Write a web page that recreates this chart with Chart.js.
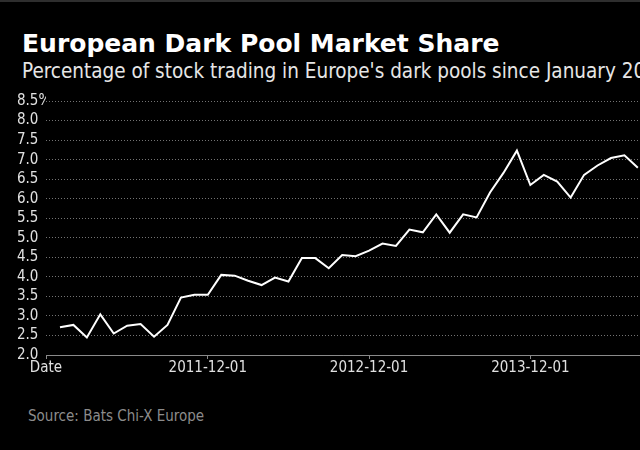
<!DOCTYPE html>
<html>
<head>
<meta charset="utf-8">
<script src="https://cdn.jsdelivr.net/npm/chart.js@4/dist/chart.umd.min.js"></script>
<style>
  html, body { margin: 0; padding: 0; background: #000; }
  #wrap { position: relative; width: 640px; height: 450px; overflow: hidden; background: #000; border-top: 2px solid #2e2e2e; box-sizing: border-box; }
  .txt { position: absolute; left: 22px; white-space: nowrap; font-family: "DejaVu Sans Condensed", "DejaVu Sans", sans-serif; }
  #title { top: 27px; font-size: 25px; font-weight: bold; color: #fff; font-family: "DejaVu Sans", sans-serif; }
  #subtitle { top: 57px; font-size: 20.5px; color: #e6e6e6; }
  #source { top: 405px; left: 28px; font-size: 15px; color: #8c8c8c; }
  #chartBox { position: absolute; left: 0; top: 0; width: 640px; height: 450px; }
</style>
</head>
<body>
<div id="wrap">
  <div class="txt" id="title">European Dark Pool Market Share</div>
  <div class="txt" id="subtitle">Percentage of stock trading in Europe's dark pools since January 2011</div>
  <div class="txt" id="source">Source: Bats Chi-X Europe</div>
  <div id="chartBox"><canvas id="myChart"></canvas></div>
</div>
<script>
// monthly values, Jan 2011 .. Aug 2014 (index 0 = 2011-01-01)
var months = [
  '2011-01','2011-02','2011-03','2011-04','2011-05','2011-06','2011-07','2011-08','2011-09','2011-10','2011-11','2011-12',
  '2012-01','2012-02','2012-03','2012-04','2012-05','2012-06','2012-07','2012-08','2012-09','2012-10','2012-11','2012-12',
  '2013-01','2013-02','2013-03','2013-04','2013-05','2013-06','2013-07','2013-08','2013-09','2013-10','2013-11','2013-12',
  '2014-01','2014-02','2014-03','2014-04','2014-05','2014-06','2014-07','2014-08'
];
var share = [
  2.71, 2.77, 2.45, 3.04, 2.55, 2.75, 2.79, 2.47, 2.77, 3.47, 3.54, 3.54,
  4.05, 4.03, 3.90, 3.79, 3.98, 3.88, 4.48, 4.48, 4.22, 4.56, 4.53, 4.67,
  4.85, 4.79, 5.21, 5.14, 5.60, 5.13, 5.60, 5.52, 6.16, 6.66, 7.23, 6.35,
  6.61, 6.44, 6.03, 6.61, 6.85, 7.04, 7.11, 6.79
];
var xTickValues = [-1.04, 11, 23, 35];
var xTickLabels = ['Date', '2011-12-01', '2012-12-01', '2013-12-01'];

var tickFont = { family: '"DejaVu Sans Condensed", "DejaVu Sans", sans-serif', size: 15 };

function renderChart() {
    var ctx = document.getElementById('myChart').getContext('2d');
    var points = share.map(function (v, i) { return { x: i, y: v }; });
    new Chart(ctx, {
        type: 'line',
        data: {
            datasets: [{
                label: 'share',
                data: points,
                borderColor: '#ffffff',
                borderWidth: 2,
                pointRadius: 0,
                tension: 0,
                fill: false
            }]
        },
        options: {
            responsive: true,
            maintainAspectRatio: false,
            animation: false,
            layout: { padding: { top: 99, bottom: 75, left: 17, right: 0 } },
            plugins: { legend: { display: false }, tooltip: { enabled: false } },
            scales: {
                x: {
                    type: 'linear',
                    min: xTickValues[0],
                    max: 43.16,
                    afterBuildTicks: function (scale) {
                        scale.ticks = xTickValues.map(function (v) { return { value: v }; });
                    },
                    ticks: {
                        color: '#e0e0e0',
                        font: tickFont,
                        autoSkip: false,
                        maxRotation: 0,
                        padding: 0,
                        callback: function (v) {
                            var i = xTickValues.indexOf(v);
                            return i >= 0 ? xTickLabels[i] : '';
                        }
                    },
                    grid: { drawOnChartArea: false, drawTicks: true, tickLength: 4, color: '#8a8a8a' },
                    border: { display: true, color: '#8a8a8a', width: 1 }
                },
                y: {
                    min: 2,
                    max: 8.5,
                    afterFit: function (scale) { scale.width = 29; },
                    ticks: {
                        stepSize: 0.5,
                        autoSkip: false,
                        color: '#e0e0e0',
                        font: tickFont,
                        crossAlign: 'far',
                        padding: 0,
                        showLabelBackdrop: true,
                        backdropColor: function (c) {
                            return c.tick && c.tick.value === 8.5 ? '#000000' : 'rgba(0,0,0,0)';
                        },
                        backdropPadding: { left: 0, right: 3, top: 0, bottom: 0 },
                        callback: function (v) {
                            return v === 8.5 ? v.toFixed(1) + '%' : v.toFixed(1);
                        }
                    },
                    grid: { drawTicks: false, color: 'rgba(255,255,255,0.45)', lineWidth: 1 },
                    border: { display: false, dash: [1, 2] }
                }
            }
        }
    });
}
renderChart();
</script>
</body>
</html>
